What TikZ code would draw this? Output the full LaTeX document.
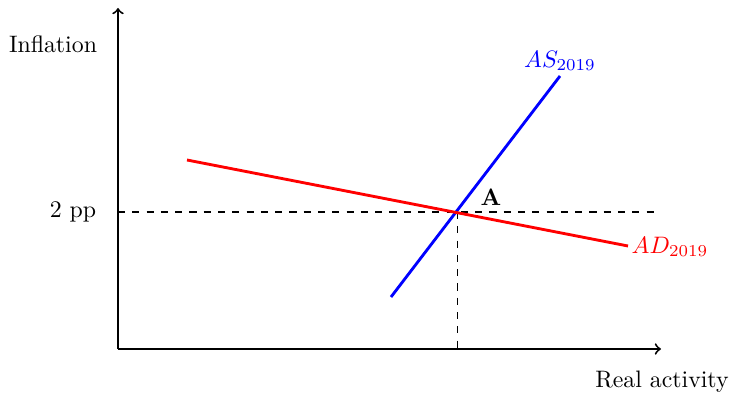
\documentclass[tikz,border=0pt]{standalone}
\begin{document}
\begin{tikzpicture}[x=0.42pt,y=-0.42pt,
  axis/.style={thick,->},
  lbl/.style={inner sep=0pt}]
\useasboundingbox (0,0) rectangle (731,394);
\coordinate (O) at (118,349);
\coordinate (ytop) at (118,8);
\coordinate (xend) at (661,349);
\draw[axis] (O) -- (ytop);
\draw[axis] (O) -- (xend);
\coordinate (hl) at (118,212);
\coordinate (hr) at (657,212);
\coordinate (A) at (457,212);
\coordinate (Ab) at (457,349);
\draw[thick,dashed] (hl) -- (hr);
\draw[dashed] (A) -- (Ab);
\coordinate (as1) at (391,297);
\coordinate (as2) at (560,76);
\coordinate (ad1) at (187,160);
\coordinate (ad2) at (628,246);
\draw[blue,very thick] (as1) -- (as2);
\draw[red,very thick] (ad1) -- (ad2);
\node[lbl] (infl) at (53,44) {Inflation};
\node[lbl] (pp) at (73,212) {2 pp};
\node[lbl] (real) at (662,382) {Real activity};
\node[lbl] (lA) at (491,197) {\textbf{A}};
\node[lbl,blue] (las) at (560,61) {$AS_{2019}$};
\node[lbl,red] (lad) at (670,247) {$AD_{2019}$};
\end{tikzpicture}
\end{document}
